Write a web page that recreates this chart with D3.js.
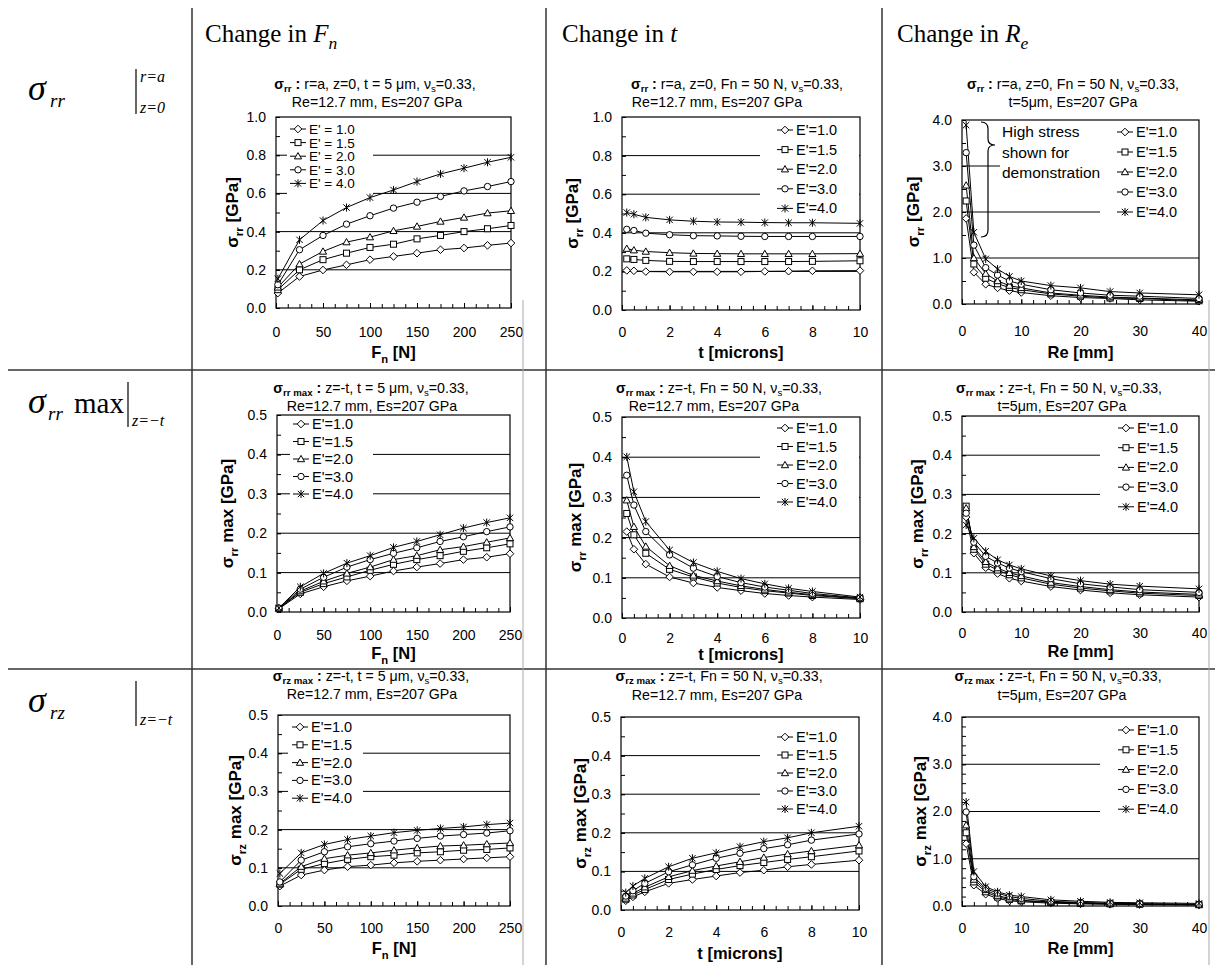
<!DOCTYPE html>
<html><head><meta charset="utf-8">
<script src="https://cdn.jsdelivr.net/npm/d3@7"></script>
<style>body{margin:0;background:#fff}svg{display:block}</style>
</head><body><svg id="c" width="1215" height="965"></svg>
<script>
// ---------------- DATA ----------------
const fnValues=[2,25,50,75,100,125,150,175,200,225,250];
const tValues=[0.2,0.5,1,2,3,4,5,6,7,8,10];
const reValues=[0.7,2,4,6,8,10,15,20,25,30,40];
const eLabels=["1.0","1.5","2.0","3.0","4.0"];
const fnTicks=[0,50,100,150,200,250];
const tTicks=[0,2,4,6,8,10];
const reTicks=[0,10,20,30,40];
const ticks1=[0,0.2,0.4,0.6,0.8,1.0];
const ticks4=[0,1,2,3,4];
const ticks05=[0,0.1,0.2,0.3,0.4,0.5];

// sigma_rr at r=a, z=0
const rrSurfFn=[
 [0.078,0.165,0.199,0.226,0.253,0.270,0.287,0.305,0.314,0.328,0.340],
 [0.096,0.200,0.253,0.287,0.317,0.334,0.362,0.380,0.400,0.415,0.432],
 [0.108,0.230,0.296,0.345,0.371,0.404,0.427,0.453,0.474,0.497,0.509],
 [0.122,0.305,0.380,0.439,0.483,0.523,0.554,0.584,0.613,0.636,0.662],
 [0.153,0.357,0.458,0.526,0.578,0.618,0.662,0.702,0.732,0.763,0.789]];
const rrSurfT=[
 [0.205,0.203,0.199,0.198,0.198,0.198,0.198,0.200,0.201,0.203,0.204],
 [0.265,0.262,0.257,0.252,0.251,0.251,0.251,0.251,0.251,0.252,0.255],
 [0.318,0.310,0.303,0.297,0.293,0.292,0.291,0.291,0.291,0.291,0.292],
 [0.418,0.412,0.398,0.390,0.385,0.384,0.382,0.381,0.381,0.381,0.381],
 [0.505,0.496,0.480,0.467,0.460,0.456,0.455,0.453,0.452,0.452,0.449]];
const rrSurfRe=[
 [1.86,0.69,0.43,0.35,0.29,0.25,0.18,0.14,0.12,0.09,0.06],
 [2.24,0.87,0.56,0.44,0.36,0.31,0.22,0.17,0.13,0.12,0.07],
 [2.58,1.00,0.66,0.50,0.40,0.35,0.24,0.19,0.15,0.13,0.09],
 [3.29,1.28,0.79,0.63,0.50,0.43,0.31,0.24,0.19,0.17,0.12],
 [3.89,1.56,0.98,0.76,0.60,0.50,0.40,0.35,0.27,0.24,0.20]];
// sigma_rr max at z=-t
const rrMaxFn=[
 [0.008,0.046,0.064,0.079,0.091,0.104,0.114,0.123,0.133,0.139,0.148],
 [0.009,0.050,0.072,0.089,0.106,0.121,0.133,0.143,0.154,0.163,0.173],
 [0.009,0.053,0.078,0.098,0.114,0.133,0.143,0.158,0.166,0.177,0.188],
 [0.010,0.058,0.088,0.114,0.133,0.149,0.163,0.179,0.191,0.204,0.216],
 [0.010,0.064,0.098,0.124,0.143,0.164,0.179,0.196,0.213,0.227,0.239]];
const rrMaxT=[
 [0.215,0.171,0.134,0.102,0.087,0.076,0.068,0.061,0.056,0.052,0.046],
 [0.260,0.207,0.161,0.121,0.102,0.087,0.076,0.068,0.062,0.056,0.048],
 [0.293,0.227,0.178,0.130,0.106,0.092,0.080,0.071,0.064,0.058,0.049],
 [0.355,0.281,0.215,0.157,0.124,0.103,0.088,0.077,0.069,0.061,0.050],
 [0.401,0.314,0.240,0.169,0.138,0.116,0.098,0.085,0.074,0.066,0.052]];
const rrMaxRe=[
 [0.242,0.150,0.113,0.098,0.086,0.079,0.065,0.056,0.049,0.044,0.038],
 [0.270,0.160,0.122,0.107,0.095,0.087,0.071,0.061,0.054,0.048,0.042],
 [0.265,0.166,0.128,0.112,0.100,0.092,0.075,0.065,0.057,0.051,0.045],
 [0.252,0.178,0.142,0.125,0.112,0.103,0.085,0.072,0.064,0.057,0.050],
 [0.222,0.188,0.155,0.133,0.120,0.110,0.092,0.080,0.071,0.066,0.059]];
// sigma_rz max at z=-t
const rzMaxFn=[
 [0.052,0.081,0.094,0.103,0.107,0.113,0.117,0.120,0.123,0.126,0.129],
 [0.057,0.096,0.111,0.122,0.129,0.133,0.139,0.142,0.146,0.148,0.152],
 [0.059,0.103,0.124,0.133,0.139,0.146,0.152,0.157,0.159,0.162,0.165],
 [0.063,0.120,0.142,0.155,0.163,0.170,0.177,0.183,0.187,0.191,0.197],
 [0.085,0.139,0.161,0.174,0.183,0.192,0.198,0.203,0.207,0.213,0.217]];
const rzMaxT=[
 [0.024,0.034,0.047,0.069,0.079,0.088,0.097,0.103,0.112,0.118,0.129],
 [0.028,0.039,0.053,0.079,0.093,0.105,0.115,0.123,0.131,0.138,0.153],
 [0.030,0.043,0.059,0.086,0.102,0.114,0.125,0.136,0.145,0.153,0.168],
 [0.036,0.050,0.069,0.099,0.117,0.134,0.147,0.159,0.169,0.181,0.197],
 [0.045,0.062,0.082,0.112,0.134,0.148,0.164,0.177,0.187,0.200,0.217]];
const rzMaxRe=[
 [1.32,0.44,0.25,0.16,0.11,0.09,0.06,0.045,0.035,0.030,0.020],
 [1.55,0.51,0.30,0.19,0.14,0.11,0.075,0.055,0.045,0.037,0.027],
 [1.71,0.56,0.34,0.22,0.16,0.12,0.085,0.065,0.050,0.042,0.030],
 [1.99,0.62,0.37,0.27,0.20,0.16,0.10,0.075,0.060,0.050,0.035],
 [2.20,0.73,0.41,0.30,0.23,0.20,0.13,0.10,0.077,0.068,0.055]];

// ---------------- LAYOUT ----------------
const SANS="Arial,'Liberation Sans',sans-serif";
const SERIF="'Times New Roman','Liberation Serif',serif";
const svg=d3.select("#c");

const T_RR=[{t:"σ",b:1},{t:"rr",b:1,sub:1},{t:" : ",b:1}];
const T_RRM=[{t:"σ",b:1},{t:"rr max",b:1,sub:1},{t:" : ",b:1}];
const T_RZM=[{t:"σ",b:1},{t:"rz max",b:1,sub:1},{t:" : ",b:1}];
const NU=[{t:"ν"},{t:"s",sub:1},{t:"=0.33,"}];
const L2A="Re=12.7 mm, Es=207 GPa", L2B="t=5μm, Es=207 GPa";
const XT_FN=[{t:"F",b:1},{t:"n",b:1,sub:1},{t:" [N]",b:1}];
const XT_T=[{t:"t [microns]",b:1}];
const XT_RE=[{t:"Re [mm]",b:1}];
const YT_RR=[{t:"σ",b:1},{t:"rr",b:1,sub:1},{t:" [GPa]",b:1}];
const YT_RRM=[{t:"σ",b:1},{t:"rr",b:1,sub:1},{t:" max [GPa]",b:1}];
const YT_RZM=[{t:"σ",b:1},{t:"rz",b:1,sub:1},{t:" max [GPa]",b:1}];

const charts=[
 {x0:276,x1:511,y0:117,y1:308,xs:fnValues,data:rrSurfFn,xDom:[0,250],xTicks:fnTicks,xMinor:12.5,yDom:[0,1],yTicks:ticks1,yMinor:0.1,
  t1:T_RR.concat([{t:"r=a, z=0, t = 5 μm, "}],NU),t2:L2A,t1p:[375,84],t2p:[377,102],xTickY:332,xTitle:XT_FN,xTitleY:352,yTitle:YT_RR,yTitleX:232,
  lx:290,ly:129,ldy:13.6,lsize:13.5,lfmt:d=>"E' = "+d,masks:[[287,121,373,196]]},
 {x0:622,x1:860,y0:117,y1:310,xs:tValues,data:rrSurfT,xDom:[0,10],xTicks:tTicks,xMinor:0.5,yDom:[0,1],yTicks:ticks1,yMinor:0.1,
  t1:T_RR.concat([{t:"r=a, z=0, Fn = 50 N, "}],NU),t2:L2A,t1p:[737,84],t2p:[717,102],xTickY:332,xTitle:XT_T,xTitleY:352,yTitle:YT_RR,yTitleX:572,
  lx:777,ly:130,ldy:19.6,lfmt:d=>"E'="+d,masks:[[760,119,859,217]]},
 {x0:962,x1:1199,y0:120,y1:304,xs:reValues,data:rrSurfRe,xDom:[0,40],xTicks:reTicks,xMinor:2,yDom:[0,4],yTicks:ticks4,yMinor:0.5,
  t1:T_RR.concat([{t:"r=a, z=0, Fn = 50 N, "}],NU),t2:L2B,t1p:[1073,84],t2p:[1073,102],xTickY:331,xTitle:XT_RE,xTitleY:352,yTitle:YT_RR,yTitleX:913,
  lx:1117,ly:132,ldy:20,lfmt:d=>"E'="+d,masks:[[1000,122,1110,184],[1100,121,1199,222]],note:true},
 {x0:277,x1:510,y0:415,y1:612,xs:fnValues,data:rrMaxFn,xDom:[0,250],xTicks:fnTicks,xMinor:12.5,yDom:[0,0.5],yTicks:ticks05,yMinor:0.05,
  t1:T_RRM.concat([{t:"z=-t, t = 5 μm, "}],NU),t2:L2A,t1p:[371,388],t2p:[372,406],xTickY:635,xTitle:XT_FN,xTitleY:653,yTitle:YT_RRM,yTitleX:227,
  lx:293,ly:424,ldy:17.5,lfmt:d=>"E'="+d,masks:[[290,416,373,502]]},
 {x0:622,x1:860,y0:417,y1:618,xs:tValues,data:rrMaxT,xDom:[0,10],xTicks:tTicks,xMinor:0.5,yDom:[0,0.5],yTicks:ticks05,yMinor:0.05,
  t1:T_RRM.concat([{t:"z=-t, Fn = 50 N, "}],NU),t2:L2A,t1p:[719,388],t2p:[714,406],xTickY:638,xTitle:XT_T,xTitleY:654,yTitle:YT_RRM,yTitleX:575,
  lx:777,ly:428,ldy:18.5,lfmt:d=>"E'="+d,masks:[[760,418,859,512]]},
 {x0:962,x1:1199,y0:416,y1:612,xs:reValues,data:rrMaxRe,xDom:[0,40],xTicks:reTicks,xMinor:2,yDom:[0,0.5],yTicks:ticks05,yMinor:0.05,
  t1:T_RRM.concat([{t:"z=-t, Fn = 50 N, "}],NU),t2:L2B,t1p:[1059,388],t2p:[1062,406],xTickY:633,xTitle:XT_RE,xTitleY:651,yTitle:YT_RRM,yTitleX:917,
  lx:1118,ly:428,ldy:19.7,lfmt:d=>"E'="+d,masks:[[1100,418,1199,517]]},
 {x0:278,x1:510,y0:715,y1:906,xs:fnValues,data:rzMaxFn,xDom:[0,250],xTicks:fnTicks,xMinor:12.5,yDom:[0,0.5],yTicks:ticks05,yMinor:0.05,
  t1:T_RZM.concat([{t:"z=-t, t = 5 μm, "}],NU),t2:L2A,t1p:[371,676],t2p:[372,694],xTickY:928,xTitle:XT_FN,xTitleY:948,yTitle:YT_RZM,yTitleX:235,
  lx:292,ly:727,ldy:17.8,lfmt:d=>"E'="+d,masks:[[288,716,363,806]]},
 {x0:621,x1:859,y0:717,y1:910,xs:tValues,data:rzMaxT,xDom:[0,10],xTicks:tTicks,xMinor:0.5,yDom:[0,0.5],yTicks:ticks05,yMinor:0.05,
  t1:T_RZM.concat([{t:"z=-t, Fn = 50 N, "}],NU),t2:L2A,t1p:[719,676],t2p:[717,695],xTickY:932,xTitle:XT_T,xTitleY:953,yTitle:YT_RZM,yTitleX:580,
  lx:777,ly:737,ldy:18,lfmt:d=>"E'="+d,masks:[[760,719,859,820]]},
 {x0:962,x1:1199,y0:717,y1:906,xs:reValues,data:rzMaxRe,xDom:[0,40],xTicks:reTicks,xMinor:2,yDom:[0,4],yTicks:ticks4,yMinor:0.2,
  t1:T_RZM.concat([{t:"z=-t, Fn = 50 N, "}],NU),t2:L2B,t1p:[1058,676],t2p:[1062,695],xTickY:928,xTitle:XT_RE,xTitleY:948,yTitle:YT_RZM,yTitleX:920,
  lx:1118,ly:730,ldy:19.8,lfmt:d=>"E'="+d,masks:[[1100,720,1199,820]]}
];

// ---------------- HELPERS ----------------
function rich(g,x,y,parts,o){
  const size=o.size;
  const t=g.append("text").attr("x",x).attr("y",y).attr("font-family",o.family||SANS)
    .attr("font-size",size).attr("text-anchor",o.anchor||"middle").attr("fill","#000");
  if(o.transform) t.attr("transform",o.transform);
  let cur=0;
  parts.forEach(p=>{
    const target=p.sub?size*(o.subShift||0.28):(p.sup?-size*0.4:0);
    const ts=t.append("tspan").text(p.t);
    if(target-cur!==0) ts.attr("dy",target-cur);
    cur=target;
    if(p.sub||p.sup) ts.attr("font-size",size*(o.subScale||0.68));
    if(p.b) ts.attr("font-weight","bold");
    if(p.i) ts.attr("font-style","italic");
  });
  return t;
}
function drawMarker(g,type,cx,cy){
  const st={stroke:"#000","stroke-width":1,fill:"#fff"};
  let el;
  if(type===0){const s=3.8;el=g.append("path").attr("d",`M${cx},${cy-s}L${cx+s},${cy}L${cx},${cy+s}L${cx-s},${cy}Z`);}
  else if(type===1){const s=3;el=g.append("rect").attr("x",cx-s).attr("y",cy-s).attr("width",2*s).attr("height",2*s);}
  else if(type===2){const s=3.6;el=g.append("path").attr("d",`M${cx},${cy-s}L${cx+s},${cy+s*0.75}L${cx-s},${cy+s*0.75}Z`);}
  else if(type===3){el=g.append("circle").attr("cx",cx).attr("cy",cy).attr("r",3.2);}
  else {const s=3.2;el=g.append("path").attr("d",`M${cx-s},${cy-s}L${cx+s},${cy+s}M${cx-s},${cy+s}L${cx+s},${cy-s}M${cx},${cy-s-0.8}L${cx},${cy+s+0.8}`);st.fill="none";}
  Object.entries(st).forEach(([k,v])=>el.attr(k,v));
}
function range(a,b,s){const r=[];for(let v=a;v<=b+1e-9;v+=s)r.push(+v.toFixed(6));return r;}

function drawChart(c){
  const g=svg.append("g");
  const x=d3.scaleLinear().domain(c.xDom).range([c.x0,c.x1]);
  const y=d3.scaleLinear().domain(c.yDom).range([c.y1,c.y0]);
  g.append("g").selectAll("line").data(c.yTicks.filter(v=>v>c.yDom[0]&&v<c.yDom[1])).join("line")
    .attr("x1",c.x0).attr("x2",c.x1).attr("y1",d=>y(d)).attr("y2",d=>y(d))
    .attr("stroke","#000").attr("stroke-width",1);
  c.masks.forEach(m=>g.append("rect").attr("x",m[0]).attr("y",m[1]).attr("width",m[2]-m[0]).attr("height",m[3]-m[1]).attr("fill","#fff"));
  const ya=g.append("g").attr("transform",`translate(${c.x0},0)`)
    .call(d3.axisLeft(y).tickValues(c.yTicks).tickFormat(d3.format(".1f")).tickSizeInner(-4).tickSizeOuter(0).tickPadding(10));
  const ym=g.append("g").attr("transform",`translate(${c.x0},0)`)
    .call(d3.axisLeft(y).tickValues(range(c.yDom[0],c.yDom[1],c.yMinor)).tickFormat("").tickSizeInner(-4).tickSizeOuter(0));
  const xa=g.append("g").attr("transform",`translate(0,${c.y1})`)
    .call(d3.axisBottom(x).tickValues(c.xTicks).tickFormat(d3.format("d")).tickSizeInner(-5).tickSizeOuter(0));
  const xm=g.append("g").attr("transform",`translate(0,${c.y1})`)
    .call(d3.axisBottom(x).tickValues(range(c.xDom[0],c.xDom[1],c.xMinor)).tickFormat("").tickSizeInner(-4).tickSizeOuter(0));
  [ya,ym,xa,xm].forEach(a=>{a.select(".domain").remove();a.selectAll("line").attr("stroke","#000");
    a.selectAll("text").attr("font-family",SANS).attr("font-size",14).attr("fill","#000");});
  xa.selectAll("text").attr("y",c.xTickY-c.y1).attr("dy","0.36em");
  g.append("rect").attr("x",c.x0).attr("y",c.y0).attr("width",c.x1-c.x0).attr("height",c.y1-c.y0)
    .attr("fill","none").attr("stroke","#000").attr("stroke-width",1.2);
  const line=d3.line().x((d,j)=>x(c.xs[j])).y(d=>y(d));
  c.data.forEach(s=>{
    g.append("path").attr("d",line(s)).attr("fill","none").attr("stroke","#000").attr("stroke-width",1);
  });
  c.data.forEach((s,i)=>{ s.forEach((v,j)=>drawMarker(g,i,x(c.xs[j]),y(v))); });
  eLabels.forEach((lab,i)=>{
    const ly=c.ly+i*c.ldy;
    g.append("line").attr("x1",c.lx).attr("x2",c.lx+16).attr("y1",ly).attr("y2",ly).attr("stroke","#000");
    drawMarker(g,i,c.lx+8,ly);
    g.append("text").attr("x",c.lx+19).attr("y",ly+5).attr("font-family",SANS).attr("font-size",c.lsize||14.5).text(c.lfmt(lab));
  });
  rich(g,c.t1p[0],c.t1p[1]+5,c.t1,{size:14.2,subShift:0.2});
  rich(g,c.t2p[0],c.t2p[1]+5,[{t:c.t2}],{size:14.2});
  rich(g,(c.x0+c.x1)/2,c.xTitleY+6,c.xTitle,{size:16.5});
  const yc=(c.y0+c.y1)/2;
  rich(g,0,0,c.yTitle,{size:17,transform:`translate(${c.yTitleX+6},${yc}) rotate(-90)`});
  if(c.note){
    ["High stress","shown for","demonstration"].forEach((s,i)=>
      g.append("text").attr("x",1002).attr("y",[132,153,173][i]+5).attr("font-family",SANS).attr("font-size",15.5).text(s));
    g.append("path").attr("d","M981,122 Q988,122 988,129 L988,139 Q988,145 995,145 Q988,145 988,151 L988,230 Q988,237 981,237")
      .attr("fill","none").attr("stroke","#000").attr("stroke-width",1.2);
  }
}
charts.forEach(drawChart);

// ---------------- TABLE FRAME ----------------
const frame=svg.append("g").attr("stroke","#333").attr("stroke-width",1.5);
[192,546,882].forEach(xv=>frame.append("line").attr("x1",xv).attr("x2",xv).attr("y1",8).attr("y2",965));
[370,669].forEach(yv=>frame.append("line").attr("x1",8).attr("x2",1215).attr("y1",yv).attr("y2",yv));
const faint=svg.append("g").attr("stroke","#aaa").attr("stroke-width",1);
faint.append("line").attr("x1",523).attr("x2",523).attr("y1",300).attr("y2",965);
faint.append("line").attr("x1",1209).attr("x2",1209).attr("y1",300).attr("y2",965);

const heads=[
 {x:205,parts:[{t:"Change in "},{t:"F",i:1},{t:"n",i:1,sub:1}]},
 {x:562,parts:[{t:"Change in "},{t:"t",i:1}]},
 {x:897,parts:[{t:"Change in "},{t:"R",i:1},{t:"e",i:1,sub:1}]}];
heads.forEach(h=>rich(svg,h.x,42,h.parts,{size:25,family:SERIF,anchor:"start",subScale:0.7}));

const rl=svg.append("g").attr("font-family",SERIF).attr("font-style","italic");
function rowLabel(y,sub,extra,top,bottom,barX,subX){
  rl.append("text").attr("x",28).attr("y",y).attr("font-size",36).text("σ");
  rl.append("text").attr("x",subX).attr("y",y+7).attr("font-size",19).text(sub);
  if(extra) rl.append("text").attr("x",74).attr("y",y).attr("font-size",29).attr("font-style","normal").text(extra);
  rl.append("line").attr("x1",barX).attr("x2",barX).attr("y1",y-31).attr("y2",y+14).attr("stroke","#000").attr("stroke-width",1.2);
  if(top) rl.append("text").attr("x",barX+4).attr("y",y-18).attr("font-size",16).text(top);
  if(bottom) rl.append("text").attr("x",barX+4).attr("y",y+13).attr("font-size",16).text(bottom);
}
rowLabel(100,"rr",null,"r=a","z=0",136,50);
rowLabel(413,"rr","max",null,"z=−t",128,48);
rowLabel(712,"rz",null,null,"z=−t",136,50);
</script></body></html>
